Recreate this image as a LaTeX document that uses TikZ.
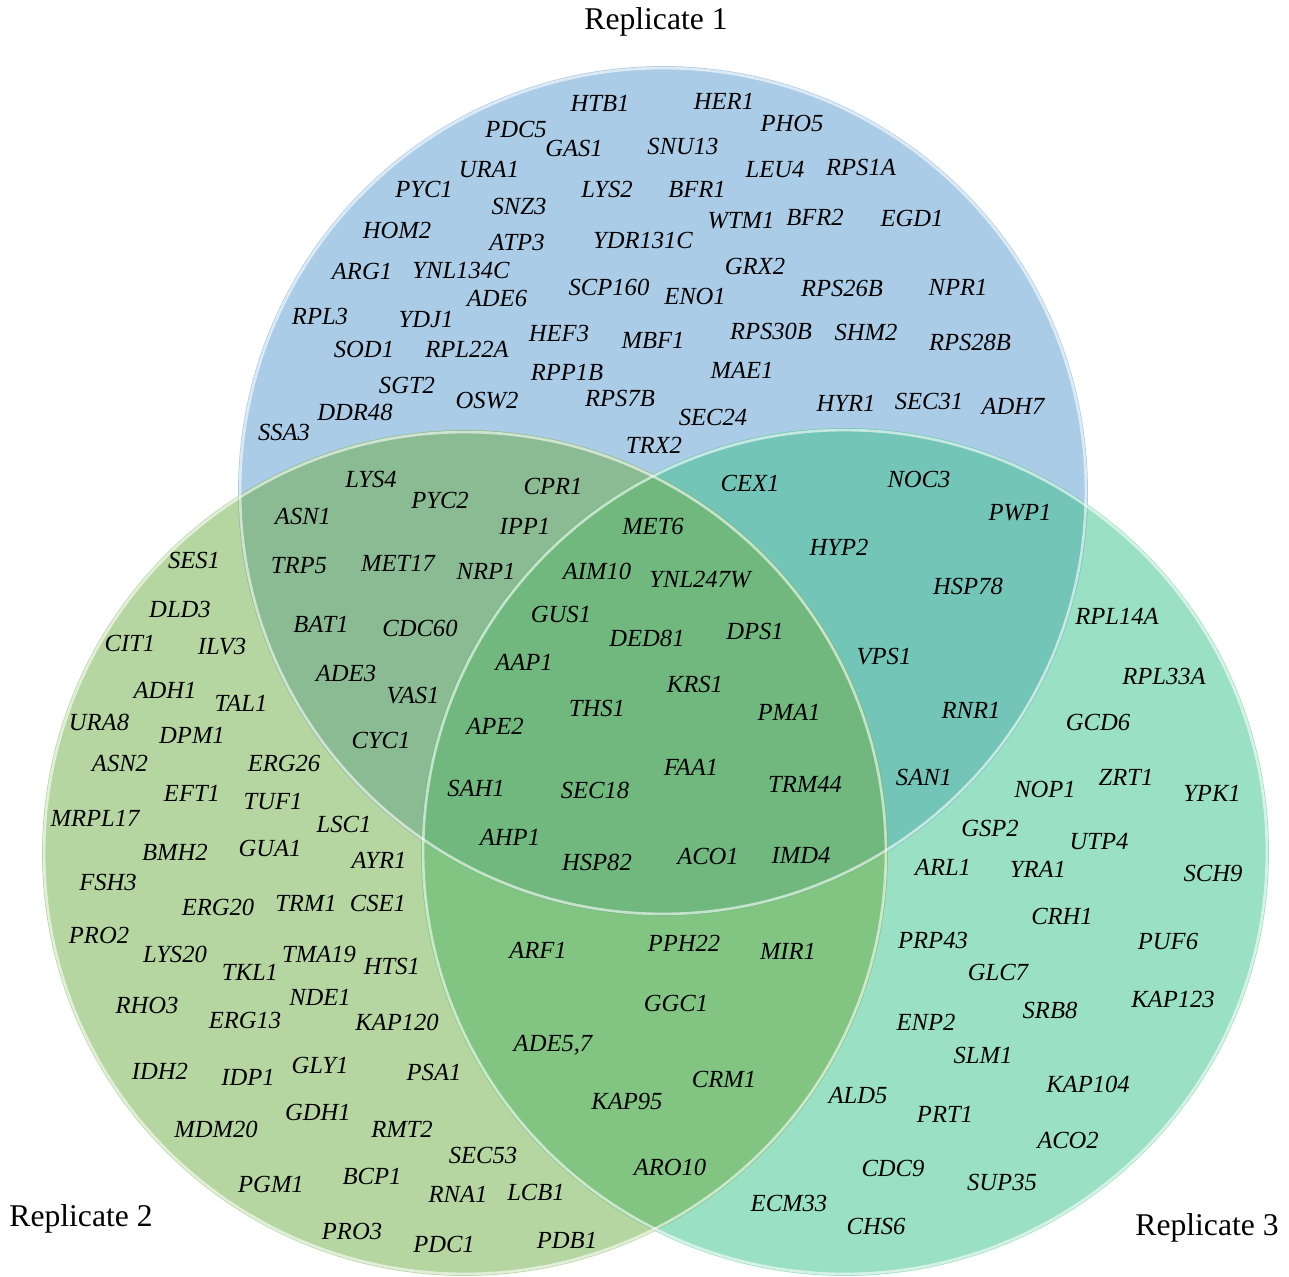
\documentclass[tikz,border=0pt]{standalone}
\usepackage{fontspec}
\setmainfont{Liberation Serif}
\definecolor{repone}{RGB}{170,204,230}
\definecolor{reptwo}{RGB}{181,214,160}
\definecolor{repthree}{RGB}{153,224,196}
\definecolor{repot}{RGB}{138,187,146}
\definecolor{repoh}{RGB}{115,197,183}
\definecolor{reptth}{RGB}{130,197,131}
\definecolor{repall}{RGB}{112,184,125}
\tikzset{
  gene/.style={font=\itshape\fontsize{14}{16}\selectfont, inner sep=0pt},
  title/.style={font=\fontsize{18}{20}\selectfont, inner sep=0pt},
  rim/.style={draw=white, draw opacity=0.6, line width=1.5pt}
}

\begin{document}
\begin{tikzpicture}[x=0.02cm,y=-0.02cm]
  \useasboundingbox (0,0) rectangle (1289,1277);
  \coordinate (c1) at (663,491);
  \coordinate (c2) at (465,853);
  \coordinate (c3) at (845,852);

  % the three sets
  \fill[repone] (c1) circle [radius=8.5cm];
  \fill[reptwo] (c2) circle [radius=8.46cm];
  \fill[repthree] (c3) circle [radius=8.48cm];

  % overlaps
  \begin{scope}
    \clip (c1) circle [radius=8.5cm];
    \fill[repot] (c2) circle [radius=8.46cm];
    \fill[repoh] (c3) circle [radius=8.48cm];
  \end{scope}
  \begin{scope}
    \clip (c2) circle [radius=8.46cm];
    \fill[reptth] (c3) circle [radius=8.48cm];
  \end{scope}
  \begin{scope}
    \clip (c1) circle [radius=8.5cm];
    \clip (c2) circle [radius=8.46cm];
    \fill[repall] (c3) circle [radius=8.48cm];
  \end{scope}

  \draw[rim] (c1) circle [radius=8.46cm];
  \draw[rim] (c2) circle [radius=8.42cm];
  \draw[rim] (c3) circle [radius=8.44cm];

  % titles
  \node[title] (rep1) at (656,22) {Replicate 1};
  \node[title] (rep2) at (81,1219) {Replicate 2};
  \node[title] (rep3) at (1207,1228) {Replicate 3};

  % replicate 1 only
  \foreach \g/\x/\y in {HTB1/600/103, HER1/724/101, PDC5/516/129, PHO5/792/123,
      GAS1/574/148, SNU13/683/146, URA1/489/170, LEU4/775/170, RPS1A/861/167,
      PYC1/424/189, LYS2/607/189, BFR1/697/189, SNZ3/519/206, WTM1/741/221,
      BFR2/815/217, EGD1/912/218, HOM2/397/230, ATP3/517/242, YDR131C/643/240,
      GRX2/755/266, ARG1/362/271, YNL134C/461/270, SCP160/609/287, ENO1/695/296,
      RPS26B/842/288, NPR1/958/287, ADE6/497/298, RPL3/320/316, YDJ1/426/320,
      HEF3/559/333, MBF1/653/340, RPS30B/771/331, SHM2/866/332, RPS28B/970/342,
      SOD1/364/349, RPL22A/467/349, RPP1B/567/372, MAE1/742/370, SGT2/407/385,
      OSW2/487/401, RPS7B/620/398, HYR1/846/403, SEC31/929/401, ADH7/1013/406,
      DDR48/355/412, SEC24/713/417, SSA3/284/432, TRX2/654/445}
    \node[gene] (\g) at (\x,\y) {\g};

  % replicates 1 and 2
  \foreach \g/\x/\y in {LYS4/371/479, PYC2/440/500, CPR1/553/486, ASN1/303/516,
      IPP1/525/526, TRP5/299/566, MET17/398/563, NRP1/486/571, BAT1/321/624,
      CDC60/420/628, ADE3/346/673, VAS1/413/696, CYC1/381/740}
    \node[gene] (\g) at (\x,\y) {\g};

  % replicates 1 and 3
  \foreach \g/\x/\y in {CEX1/750/483, NOC3/919/479, PWP1/1020/513, HYP2/839/547,
      HSP78/968/586, VPS1/884/657, RNR1/971/710, SAN1/924/777}
    \node[gene] (\g) at (\x,\y) {\g};

  % all three
  \foreach \g/\x/\y in {MET6/653/526, AIM10/597/571, YNL247W/700/580, GUS1/561/614,
      DED81/647/638, DPS1/755/631, AAP1/524/662, KRS1/695/684, THS1/597/708,
      PMA1/789/712, APE2/495/726, FAA1/691/767, SAH1/476/788, SEC18/595/790,
      TRM44/805/784, AHP1/510/837, HSP82/597/862, ACO1/708/856, IMD4/801/855}
    \node[gene] (\g) at (\x,\y) {\g};

  % replicate 2 only
  \foreach \g/\x/\y in {SES1/194/560, DLD3/180/609, CIT1/130/643, ILV3/222/647,
      ADH1/165/690, TAL1/241/703, URA8/99/722, DPM1/192/735, ASN2/120/763,
      ERG26/284/763, EFT1/192/793, TUF1/273/801, MRPL17/95/818, LSC1/344/824,
      BMH2/175/852, GUA1/270/848, AYR1/379/860, FSH3/108/882, ERG20/218/907,
      TRM1/306/903, CSE1/378/903, PRO2/99/935, LYS20/175/954, TMA19/319/954,
      TKL1/250/972, HTS1/392/966, RHO3/147/1005, NDE1/320/997, ERG13/245/1020,
      KAP120/397/1022, IDH2/160/1071, IDP1/248/1077, GLY1/320/1065, PSA1/434/1072,
      GDH1/318/1112, MDM20/216/1129, RMT2/402/1129, SEC53/483/1155, PGM1/271/1184,
      BCP1/372/1176, RNA1/458/1194, LCB1/536/1192, PRO3/352/1231, PDC1/444/1244,
      PDB1/567/1240}
    \node[gene] (\g) at (\x,\y) {\g};

  % replicates 2 and 3
  \foreach \g/\x/\y in {ARF1/538/950, PPH22/684/943, MIR1/788/951, GGC1/676/1003,
      CRM1/724/1079, KAP95/627/1101, ARO10/670/1167}
    \node[gene] (\g) at (\x,\y) {\g};
  \node[gene] (ADE57) at (553,1045) {ADE5,7};

  % replicate 3 only
  \foreach \g/\x/\y in {RPL14A/1117/616, RPL33A/1164/676, GCD6/1098/722,
      NOP1/1045/789, ZRT1/1126/777, YPK1/1212/793, GSP2/990/828, UTP4/1099/842,
      ARL1/943/867, YRA1/1038/869, SCH9/1213/873, CRH1/1062/916, PRP43/933/940,
      PUF6/1168/941, GLC7/998/972, SRB8/1050/1010, KAP123/1173/999, ENP2/926/1022,
      SLM1/983/1055, KAP104/1088/1084, ALD5/858/1095, PRT1/945/1114,
      ACO2/1068/1140, CDC9/893/1168, SUP35/1002/1182, ECM33/789/1203,
      CHS6/876/1226}
    \node[gene] (\g) at (\x,\y) {\g};
\end{tikzpicture}
\end{document}
